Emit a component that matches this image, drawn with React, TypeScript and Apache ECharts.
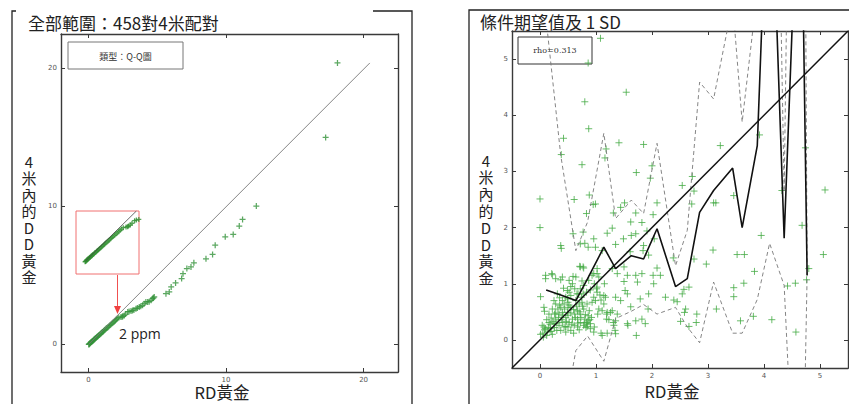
import React, { useEffect, useRef } from "react";
import * as echarts from "echarts";

// ---------- Left panel: Q-Q plot (sorted RD gold vs sorted DD gold) ----------
const qqRD = [
  0.02, 0.05, 0.08, 0.11, 0.14, 0.17, 0.2, 0.24, 0.28, 0.32, 0.36, 0.4, 0.44, 0.48, 0.53,
  0.58, 0.63, 0.68, 0.73, 0.78, 0.84, 0.9, 0.96, 1.02, 1.08, 1.14, 1.2, 1.27, 1.34, 1.41,
  1.48, 1.55, 1.62, 1.7, 1.78, 1.86, 1.94, 2.02, 2.1, 2.2, 2.36, 2.45, 2.5, 2.6, 2.7, 2.85,
  2.95, 3.09, 3.2, 3.3, 3.45, 3.55, 3.69, 3.8, 3.93, 4.05, 4.17, 4.3, 4.41, 4.55, 4.66,
  4.72, 4.78, 5.63, 5.87, 6.01, 6.33, 6.77, 6.87, 7.15, 7.45, 7.66, 8.54, 9.02, 9.21, 9.94,
  10.52, 10.96, 11.2, 12.2, 17.24, 18.1,
];
const qqDD = [
  0.0, 0.02, 0.05, 0.08, 0.11, 0.14, 0.17, 0.2, 0.24, 0.27, 0.31, 0.35, 0.38, 0.42, 0.46,
  0.51, 0.55, 0.6, 0.64, 0.69, 0.74, 0.79, 0.85, 0.9, 0.96, 1.01, 1.07, 1.13, 1.19, 1.25,
  1.32, 1.38, 1.44, 1.51, 1.58, 1.65, 1.72, 1.8, 1.87, 1.95, 1.98, 2.0, 2.05, 2.1, 2.2,
  2.35, 2.38, 2.42, 2.45, 2.5, 2.59, 2.63, 2.71, 2.76, 2.83, 2.95, 3.08, 3.08, 3.1, 3.2,
  3.32, 3.38, 3.44, 3.68, 3.8, 4.17, 4.46, 4.77, 5.13, 5.5, 5.62, 5.91, 6.2, 6.52, 7.19,
  7.8, 7.97, 8.58, 9.06, 10.03, 15.0, 20.4,
];
const leftTicks = [0, 10, 20];

// ---------- Right panel: scatter, conditional expectation and ±1 SD ----------
const pairsRDDD: number[][] = [
  [1.08, 5.37], [0.86, 4.93], [1.54, 4.41], [0.8, 4.24], [0.87, 3.76], [0.42, 3.59],
  [0.38, 3.3], [1.41, 3.51], [1.85, 3.48], [0.75, 3.12], [1.18, 3.4], [1.16, 3.24],
  [1.72, 2.98], [3.22, 3.46], [3.92, 3.65], [2.0, 3.1], [1.97, 2.88], [2.72, 2.91],
  [2.75, 2.65], [2.54, 2.75], [2.71, 2.42], [0.0, 2.51], [0.61, 2.5], [0.88, 2.58],
  [0.95, 2.41], [0.99, 2.42], [0.83, 2.25], [1.31, 2.26], [1.44, 2.36], [1.51, 2.44],
  [1.71, 2.26], [2.02, 2.23], [2.09, 2.44], [1.62, 2.1], [1.82, 2.09], [0.0, 2.0],
  [1.2, 1.9], [1.29, 1.99], [1.49, 1.8], [1.63, 1.86], [1.71, 1.89], [1.91, 1.94],
  [2.04, 1.8], [0.59, 1.89], [0.77, 1.92], [0.96, 1.8], [0.8, 1.72], [0.72, 1.71],
  [0.86, 1.65], [0.99, 1.65], [0.37, 1.68], [0.38, 1.63], [1.11, 1.59], [1.35, 1.7],
  [1.61, 1.57], [1.84, 1.59], [1.85, 1.68], [1.94, 1.51], [0.71, 1.31], [0.77, 1.3],
  [1.02, 1.27], [1.29, 1.27], [1.5, 1.3], [2.09, 1.28], [3.09, 1.6], [2.75, 1.44],
  [2.38, 1.46], [2.97, 1.35], [3.52, 1.52], [3.65, 1.52], [3.95, 1.86], [5.06, 1.52],
  [5.09, 2.67], [4.68, 2.04], [4.74, 3.42], [4.32, 2.66], [3.46, 2.57], [3.1, 2.44],
  [3.14, 2.44], [3.83, 1.22], [3.64, 1.01], [3.46, 0.77], [3.46, 0.93], [3.81, 0.42],
  [4.14, 0.36], [3.58, 0.34], [4.57, 0.14], [4.42, 0.96], [4.56, 1.01], [4.76, 1.07],
  [4.8, 1.27], [3.15, 0.55], [2.8, 0.46], [2.79, 0.31], [2.66, 0.24], [2.57, 0.9],
  [2.54, 0.82], [2.66, 0.94], [2.6, 0.55], [2.58, 0.49], [2.39, 0.71], [2.45, 0.68],
  [2.51, 0.33], [2.24, 0.76], [2.15, 1.15], [2.02, 1.15], [1.82, 1.18], [1.74, 1.03],
  [2.03, 1.0], [1.94, 0.82], [1.79, 0.73], [1.93, 0.55], [1.82, 0.37], [1.88, 0.29],
  [1.71, 0.34], [1.72, 0.08], [1.56, 0.29], [1.57, 0.26], [1.62, 0.59], [1.52, 0.88],
  [1.5, 1.04], [1.38, 1.18], [1.56, 1.15], [1.71, 1.15], [1.35, 0.76], [1.44, 0.7],
  [1.56, 0.82], [1.29, 0.52], [1.32, 0.26], [1.35, 0.34], [1.38, 0.46], [1.35, 0.11],
  [1.11, 0.08], [1.19, 0.37], [1.2, 0.49], [1.17, 0.76], [1.14, 0.79], [1.15, 1.0],
  [1.02, 0.94], [1.05, 1.12], [0.96, 1.18], [1.02, 0.85], [0.99, 0.7], [0.96, 0.14],
  [0.64, 1.12], [0.52, 1.06], [0.4, 1.12], [0.22, 1.16], [0.1, 1.09], [0.01, 0.77],
  [0.07, 0.58], [0.28, 1.09],
  [0.1, 1.15], [0.21, 1.18], [0.37, 1.07], [0.59, 1.13], [0.72, 1.3], [0.78, 1.28],
  [0.08, 0.51], [0.04, 0.26], [0.01, 0.1], [0.06, 0.05], [0.13, 0.14], [0.1, 0.2],
  [0.19, 0.2], [0.16, 0.31], [0.25, 0.29], [0.2, 0.39], [0.28, 0.37], [0.34, 0.46],
  [0.4, 0.49], [0.37, 0.58], [0.43, 0.64], [0.5, 0.67], [0.55, 0.58], [0.49, 0.49],
  [0.46, 0.4], [0.4, 0.31], [0.34, 0.26], [0.3, 0.17], [0.22, 0.1], [0.52, 0.31],
  [0.58, 0.37], [0.62, 0.46], [0.67, 0.52], [0.7, 0.64], [0.74, 0.76], [0.77, 0.82],
  [0.83, 0.85], [0.9, 0.89], [0.96, 0.76], [0.93, 0.67], [0.84, 0.64], [0.78, 0.55],
  [0.72, 0.46], [0.67, 0.37], [0.61, 0.26], [0.55, 0.17], [0.72, 0.31], [0.8, 0.37],
  [0.86, 0.34], [0.89, 0.36], [0.83, 0.31], [0.97, 0.23], [1.03, 0.46], [1.05, 0.55],
  [1.01, 0.91], [0.97, 1.0], [1.07, 0.8], [1.09, 0.71], [1.14, 0.64], [1.11, 0.52],
  [1.19, 0.46], [1.26, 0.49], [1.23, 0.36], [1.31, 0.31], [1.34, 0.17], [1.09, 0.12],
  [1.2, 0.12], [0.31, 0.82], [0.49, 0.88], [0.55, 0.79], [0.62, 0.91], [0.46, 0.76],
  [0.4, 0.7], [0.28, 0.64], [0.22, 0.55], [0.16, 0.46], [0.12, 0.36], [0.07, 0.23],
  [0.26, 0.46], [0.32, 0.55], [0.5, 0.58], [0.64, 0.7], [0.68, 0.82], [0.72, 0.91],
  [0.78, 0.97], [0.87, 1.06], [0.93, 1.15], [1.02, 1.18], [0.46, 0.24], [0.37, 0.17],
  [0.43, 0.23], [0.5, 0.23], [0.67, 0.23], [0.78, 0.26], [0.84, 0.24], [0.9, 0.29],
  [0.86, 0.43], [0.75, 0.67], [0.49, 0.73], [0.58, 1.0],
  [0.05, 0.12], [0.08, 0.18], [0.12, 0.08], [0.15, 0.22], [0.18, 0.28], [0.2, 0.15],
  [0.23, 0.33], [0.26, 0.22], [0.28, 0.48], [0.3, 0.3], [0.33, 0.4], [0.35, 0.62],
  [0.38, 0.36], [0.41, 0.44], [0.44, 0.55], [0.47, 0.33], [0.5, 0.44], [0.52, 0.62],
  [0.55, 0.48], [0.57, 0.28], [0.6, 0.54], [0.63, 0.4], [0.65, 0.6], [0.68, 0.3],
  [0.7, 0.5], [0.73, 0.4], [0.76, 0.6], [0.79, 0.3], [0.81, 0.45], [0.85, 0.28],
  [0.88, 0.52], [0.92, 0.4], [0.46, 0.14], [0.6, 0.12], [0.7, 0.18], [0.82, 0.22],
  [0.9, 0.2], [0.52, 0.85], [0.42, 0.92], [0.35, 0.75], [0.66, 0.82], [0.75, 1.05],
  [0.55, 0.95], [0.25, 0.7],
];
const ceX = [0.11, 0.37, 0.64, 0.85, 1.14, 1.35, 1.63, 1.85, 2.09, 2.42, 2.63, 2.85, 3.1, 3.44, 3.61, 3.88, 4.1, 4.36, 4.65, 4.77];
const ceMean = [0.89, 0.8, 0.7, 1.09, 1.65, 1.27, 1.5, 1.44, 1.98, 0.95, 1.09, 2.27, 2.66, 3.06, 2.0, 3.46, 9.3, 1.81, 9.45, 1.15];
const ceUpper = [5.7, 3.29, 1.59, 2.1, 3.68, 2.16, 2.49, 2.25, 3.5, 1.32, 1.95, 4.59, 4.29, 6.0, 3.88, 6.2, 16.9, 2.64, 24.0, 1.15];
const ceLower = [-3.92, -1.69, -0.19, 0.07, -0.38, 0.38, 0.51, 0.63, 0.46, 0.58, 0.23, -0.05, 1.03, 0.12, 0.12, 0.72, 1.72, 0.97, -5.1, 1.15];
const rightTicks = [0, 1, 2, 3, 4, 5];
const yLabelChars = ["4", "米", "內", "的", "D", "D", "黃", "金"];

const PLUS = "path://M0,5L10,5M5,0L5,10";
const CJK = "'Noto Sans CJK TC', 'Noto Sans', sans-serif";

function axis(grid: number, position: string, min: number, max: number, ticks: number[], showLabel: boolean) {
  return {
    type: "value",
    gridIndex: grid,
    position,
    min,
    max,
    axisLine: { show: true, onZero: false, lineStyle: { color: "#3a3a3a", width: 1.4 } },
    axisTick: { show: true, inside: true, length: 4, customValues: ticks, lineStyle: { color: "#3a3a3a", width: 1 } },
    axisLabel: {
      show: showLabel,
      customValues: ticks,
      fontSize: 7,
      color: "#555",
      margin: 4,
      fontFamily: "'DejaVu Sans', sans-serif",
    },
    splitLine: { show: false },
  };
}

function hiddenAxis(grid: number, min: number, max: number) {
  return { type: "value", gridIndex: grid, min, max, show: false, splitLine: { show: false } };
}

function text(x: number, y: number, t: string, size: number, opts: any = {}) {
  return {
    type: "text",
    x,
    y,
    z: 50,
    style: {
      text: t,
      fill: opts.fill || "#222",
      fontSize: size,
      fontFamily: opts.font || CJK,
      align: opts.align || "left",
      textAlign: opts.align || "left",
      verticalAlign: "middle",
      textVerticalAlign: "middle",
    },
  };
}

function stackedLabel(cx: number, firstY: number, step: number) {
  return yLabelChars.map((c, i) => text(cx, firstY + i * step, c, 15, { align: "center" }));
}

export default function App() {
  const ref = useRef<HTMLDivElement>(null);
  useEffect(() => {
    const chart = echarts.init(ref.current!, null, { renderer: "svg" });
    const qqPts = qqRD.map((x, i) => [x, qqDD[i]]);
    const insetPts = qqPts.filter((p) => p[0] <= 3.1);
    const mean = ceX.map((x, i) => [x, ceMean[i]]);
    const upper = ceX.map((x, i) => [x, ceUpper[i]]);
    const lower = ceX.map((x, i) => [x, ceLower[i]]);
    const dashed = { type: [4, 3], color: "#777", width: 0.9 };
    const frame = { stroke: "#222", lineWidth: 1.3, fill: "none" };

    const option: any = {
      animation: false,
      backgroundColor: "#fff",
      grid: [
        { left: 61, top: 34, width: 337, height: 338 },
        { left: 76, top: 211, width: 63, height: 63 },
        { left: 512, top: 31, width: 336, height: 337 },
      ],
      xAxis: [
        axis(0, "bottom", -2, 22.5, leftTicks, true),
        axis(0, "top", -2, 22.5, leftTicks, false),
        hiddenAxis(1, -0.5, 3.1),
        axis(2, "bottom", -0.5, 5.5, rightTicks, true),
        axis(2, "top", -0.5, 5.5, rightTicks, false),
      ],
      yAxis: [
        axis(0, "left", -2, 22.5, leftTicks, true),
        axis(0, "right", -2, 22.5, leftTicks, false),
        hiddenAxis(1, -0.7, 2.9),
        axis(2, "left", -0.5, 5.5, rightTicks, true),
        axis(2, "right", -0.5, 5.5, rightTicks, false),
      ],
      series: [
        {
          type: "scatter",
          xAxisIndex: 0,
          yAxisIndex: 0,
          data: qqPts,
          symbol: PLUS,
          symbolSize: 6,
          itemStyle: { color: "rgba(0,0,0,0)", borderColor: "#33923a", borderWidth: 1.25 },
        },
        {
          type: "line",
          xAxisIndex: 0,
          yAxisIndex: 0,
          data: [[0, 0], [20.45, 20.4]],
          symbol: "none",
          lineStyle: { color: "#777", width: 0.9 },
        },
        {
          type: "line",
          xAxisIndex: 2,
          yAxisIndex: 2,
          data: [[0.05, 0.05], [2.95, 2.9]],
          symbol: "none",
          lineStyle: { color: "#444", width: 0.8 },
        },
        {
          type: "scatter",
          xAxisIndex: 2,
          yAxisIndex: 2,
          data: insetPts,
          symbol: PLUS,
          symbolSize: 5,
          itemStyle: { color: "rgba(0,0,0,0)", borderColor: "#2f8f2f", borderWidth: 1.3 },
        },
        {
          type: "scatter",
          xAxisIndex: 3,
          yAxisIndex: 3,
          data: pairsRDDD,
          symbol: PLUS,
          symbolSize: 7,
          itemStyle: { color: "rgba(0,0,0,0)", borderColor: "#46ab46", borderWidth: 1 },
        },
        {
          type: "line",
          xAxisIndex: 3,
          yAxisIndex: 3,
          data: upper,
          symbol: "none",
          lineStyle: dashed,
        },
        {
          type: "line",
          xAxisIndex: 3,
          yAxisIndex: 3,
          data: lower,
          symbol: "none",
          lineStyle: dashed,
        },
        {
          type: "line",
          xAxisIndex: 3,
          yAxisIndex: 3,
          data: [[-0.5, -0.5], [5.5, 5.5]],
          symbol: "none",
          lineStyle: { color: "#111", width: 1.5 },
        },
        {
          type: "line",
          xAxisIndex: 3,
          yAxisIndex: 3,
          data: mean,
          symbol: "none",
          lineStyle: { color: "#111", width: 1.6 },
        },
      ],
      graphic: [
        { type: "polyline", shape: { points: [[16, 11], [12, 11], [12, 404]] }, style: frame },
        { type: "polyline", shape: { points: [[373, 11], [412, 11], [412, 404]] }, style: frame },
        { type: "polyline", shape: { points: [[469, 404], [469, 10], [849, 10]] }, style: frame },
        text(28, 22, "全部範圍：458對4米配對", 17),
        text(480, 21, "條件期望值及 1 SD", 17),
        ...stackedLabel(29, 161, 16.5),
        ...stackedLabel(486, 160, 16.8),
        text(222, 392, "RD黃金", 16.5, { align: "center" }),
        text(672, 391, "RD黃金", 16.5, { align: "center" }),
        { type: "rect", shape: { x: 68, y: 42, width: 115, height: 27 }, style: { fill: "none", stroke: "#777", lineWidth: 1 } },
        text(125.5, 56, "類型：Q-Q圖", 9, { align: "center", fill: "#333" }),
        { type: "rect", shape: { x: 518, y: 37, width: 74, height: 27 }, style: { fill: "none", stroke: "#333", lineWidth: 1 } },
        text(555, 50, "rho=0.313", 8, { align: "center", fill: "#333", font: "'DejaVu Serif', serif" }),
        { type: "rect", shape: { x: 76, y: 211, width: 63, height: 63 }, style: { fill: "none", stroke: "#f07070", lineWidth: 1 } },
        { type: "line", shape: { x1: 117.5, y1: 275, x2: 117.5, y2: 308 }, style: { stroke: "#f05050", lineWidth: 1 } },
        { type: "polygon", shape: { points: [[114, 306], [121, 306], [117.5, 314]] }, style: { fill: "#f04040" } },
        text(119, 333, "2 ppm", 14, { fill: "#222", font: "'Open Sans', 'Noto Sans', sans-serif" }),
      ],
    };
    chart.setOption(option);
    return () => chart.dispose();
  }, []);
  return (
    <div
      ref={ref}
      style={{ position: "absolute", left: 0, top: 0, width: 849, height: 404, background: "#fff" }}
    />
  );
}
